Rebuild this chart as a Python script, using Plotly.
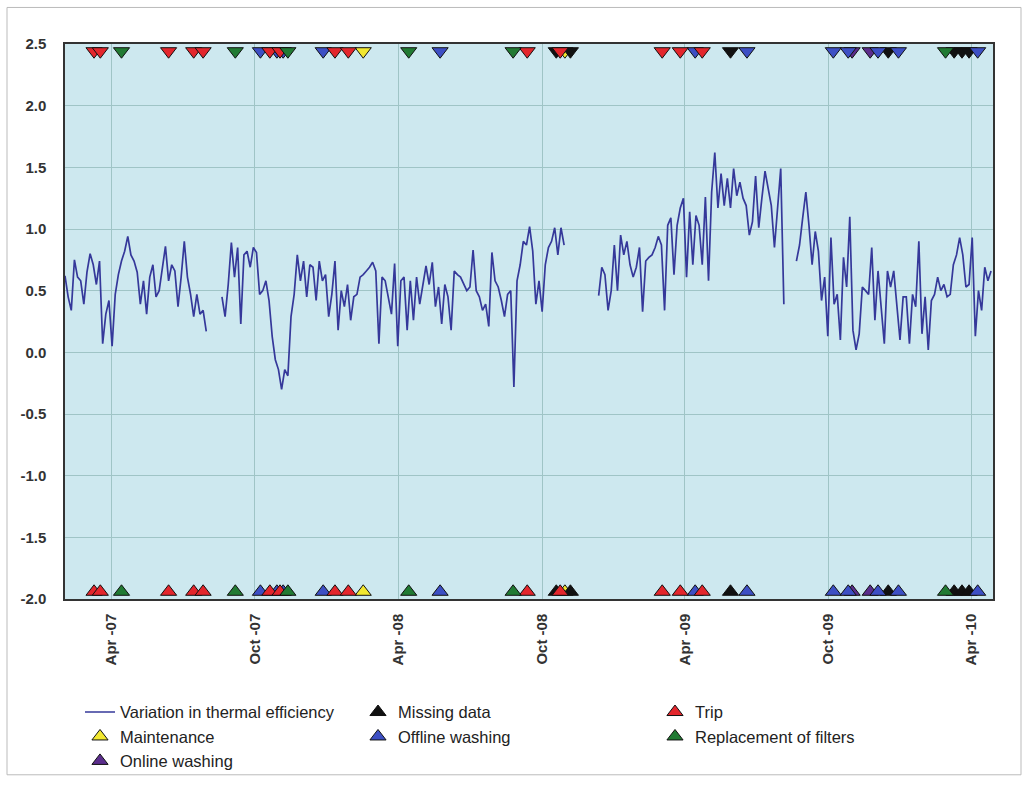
import pandas as pd
import plotly.graph_objects as go

# ---------------- data ----------------
SERIES_START = "2007-02-01"
SERIES_STEP_DAYS = 4
efficiency = [
    0.62, 0.45, 0.34, 0.75, 0.61, 0.58, 0.39, 0.65, 0.80, 0.71,
    0.55, 0.74, 0.07, 0.31, 0.42, 0.05, 0.47, 0.63, 0.74, 0.82,
    0.94, 0.79, 0.74, 0.65, 0.39, 0.58, 0.31, 0.61, 0.71, 0.45,
    0.50, 0.69, 0.86, 0.58, 0.71, 0.66, 0.37, 0.61, 0.90, 0.61,
    0.47, 0.29, 0.47, 0.31, 0.34, 0.17, None, None, None, None,
    0.45, 0.29, 0.55, 0.89, 0.61, 0.85, 0.23, 0.79, 0.82, 0.69,
    0.85, 0.81, 0.47, 0.50, 0.58, 0.42, 0.13, -0.06, -0.14, -0.30,
    -0.14, -0.19, 0.29, 0.47, 0.79, 0.58, 0.74, 0.45, 0.71, 0.69,
    0.42, 0.74, 0.58, 0.63, 0.29, 0.47, 0.74, 0.18, 0.50, 0.37,
    0.55, 0.26, 0.45, 0.47, 0.61, 0.63, 0.66, 0.69, 0.73, 0.66,
    0.07, 0.61, 0.58, 0.45, 0.31, 0.72, 0.05, 0.58, 0.61, 0.18,
    0.58, 0.26, 0.61, 0.39, 0.53, 0.70, 0.55, 0.73, 0.37, 0.53,
    0.23, 0.55, 0.45, 0.18, 0.66, 0.63, 0.61, 0.55, 0.50, 0.53,
    0.83, 0.50, 0.45, 0.34, 0.39, 0.21, 0.81, 0.58, 0.53, 0.42,
    0.29, 0.47, 0.50, -0.28, 0.58, 0.71, 0.90, 0.87, 1.02, 0.82,
    0.39, 0.58, 0.33, 0.71, 0.85, 0.90, 1.01, 0.79, 1.01, 0.87,
    None, None, None, None, None, None, None, None, None, None,
    0.46, 0.69, 0.63, 0.34, 0.50, 0.87, 0.50, 0.95, 0.79, 0.90,
    0.71, 0.61, 0.69, 0.85, 0.33, 0.74, 0.77, 0.79, 0.85, 0.94,
    0.87, 0.34, 1.03, 1.09, 0.63, 1.03, 1.17, 1.25, 0.61, 1.14,
    0.71, 1.11, 1.03, 0.71, 1.26, 0.58, 1.30, 1.62, 1.17, 1.45,
    1.19, 1.41, 1.17, 1.49, 1.27, 1.38, 1.25, 1.19, 0.95, 1.06,
    1.43, 1.01, 1.25, 1.47, 1.33, 1.19, 0.85, 1.17, 1.49, 0.39,
    None, None, None, 0.74, 0.87, 1.09, 1.30, 1.03, 0.71, 0.98,
    0.82, 0.42, 0.61, 0.13, 0.93, 0.39, 0.47, 0.10, 0.77, 0.53,
    1.10, 0.18, 0.02, 0.15, 0.53, 0.50, 0.47, 0.85, 0.26, 0.66,
    0.39, 0.07, 0.66, 0.53, 0.66, 0.39, 0.10, 0.45, 0.45, 0.07,
    0.47, 0.37, 0.90, 0.15, 0.45, 0.02, 0.42, 0.47, 0.61, 0.50,
    0.55, 0.45, 0.47, 0.71, 0.79, 0.93, 0.79, 0.53, 0.55, 0.93,
    0.13, 0.50, 0.34, 0.69, 0.58, 0.66,
]

maintenance = ["2008-02-16", "2008-10-30"]
online_washing = ["2009-10-31", "2009-11-23"]
missing_data = ["2008-10-19", "2008-11-06", "2009-05-29", "2009-12-16",
                "2010-03-10", "2010-03-20", "2010-03-29"]
offline_washing = ["2007-10-08", "2007-10-29", "2007-11-06", "2007-12-27",
                   "2008-05-24", "2009-04-14", "2009-06-19", "2009-10-07",
                   "2009-10-26", "2009-12-03", "2009-12-29", "2010-04-09"]
trip = ["2007-03-10", "2007-03-18", "2007-06-13", "2007-07-15", "2007-07-27",
        "2007-10-20", "2007-11-02", "2008-01-11", "2008-01-28", "2008-09-12",
        "2008-10-24", "2009-03-03", "2009-03-26", "2009-04-23"]
replacement_filters = ["2007-04-14", "2007-09-06", "2007-11-12", "2008-04-14",
                       "2008-08-25", "2010-02-27"]

tick_dates = ["2007-04-01", "2007-10-01", "2008-04-01", "2008-10-01",
              "2009-04-01", "2009-10-01", "2010-04-01"]
tick_labels = ["Apr -07", "Oct -07", "Apr -08", "Oct -08",
               "Apr -09", "Oct -09", "Apr -10"]
y_ticks = [-2.0, -1.5, -1.0, -0.5, 0.0, 0.5, 1.0, 1.5, 2.0, 2.5]
y_tick_labels = ["-2.0", "-1.5", "-1.0", "-0.5", "0.0", "0.5", "1.0", "1.5", "2.0", "2.5"]

X_RANGE = ["2007-02-01", "2010-04-28 12:00"]
Y_MIN, Y_MAX = -2.0, 2.5

# ---------------- figure ----------------
W, H = 1028, 791
ML, MR, MT, MB = 65, 35, 44, 185
PW, PH = W - ML - MR, H - MT - MB

dates = pd.date_range(SERIES_START, periods=len(efficiency), freq=f"{SERIES_STEP_DAYS}D")

FONT = "Liberation Sans"
fig = go.Figure()

fig.add_trace(go.Scatter(
    x=dates, y=efficiency, mode="lines", connectgaps=False,
    line=dict(color="#35389a", width=1.7),
    name="Variation in thermal efficiency", legend="legend",
))

span = Y_MAX - Y_MIN
y_top = Y_MAX - span * 0.013
y_bot = Y_MIN + span * 0.013

events = [
    ("Maintenance", maintenance, "#f2e830", "legend"),
    ("Online washing", online_washing, "#5b2d8c", "legend"),
    ("Missing data", missing_data, "#111111", "legend2"),
    ("Offline washing", offline_washing, "#3d4fc4", "legend2"),
    ("Trip", trip, "#e3262c", "legend3"),
    ("Replacement of filters", replacement_filters, "#217a33", "legend3"),
]

for name, ds, col, lg in events:
    fig.add_trace(go.Scatter(
        x=ds, y=[y_top] * len(ds), mode="markers", showlegend=False,
        marker=dict(symbol="triangle-down", size=14, color=col,
                    line=dict(color="#111111", width=1)),
        cliponaxis=False, legend=lg, name=name,
    ))
    fig.add_trace(go.Scatter(
        x=ds, y=[y_bot] * len(ds), mode="markers", showlegend=True,
        marker=dict(symbol="triangle-up", size=14, color=col,
                    line=dict(color="#111111", width=1)),
        cliponaxis=False, legend=lg, name=name,
    ))

def px_x(p):
    return (p - ML) / PW

def px_y(p):
    return (H - MB - p) / PH

legend_common = dict(
    font=dict(family=FONT, size=16.5, color="#222222"),
    bgcolor="rgba(0,0,0,0)", yanchor="top", xanchor="left",
    tracegroupgap=0, itemwidth=30,
)

fig.update_layout(
    width=W, height=H,
    margin=dict(l=ML, r=MR, t=MT, b=MB),
    paper_bgcolor="white",
    plot_bgcolor="#cde8ef",
    font=dict(family=FONT, size=13, color="#222222"),
    legend=dict(x=px_x(80), y=px_y(703), **legend_common),
    legend2=dict(x=px_x(358), y=px_y(703), **legend_common),
    legend3=dict(x=px_x(655), y=px_y(703), **legend_common),
    xaxis=dict(
        type="date", range=X_RANGE,
        tickvals=tick_dates, ticktext=tick_labels, tickangle=-90,
        tickfont=dict(family=FONT, size=15, color="#333333", weight="bold"),
        showgrid=True, gridcolor="#9fc4c6", gridwidth=1,
        showline=True, linecolor="#333333", linewidth=1.5, mirror=True,
        ticks="", zeroline=False, ticklabelstandoff=7,
    ),
    yaxis=dict(
        range=[Y_MIN, Y_MAX], tickvals=y_ticks, ticktext=y_tick_labels,
        tickfont=dict(family=FONT, size=15, color="#333333", weight="bold"),
        showgrid=True, gridcolor="#9fc4c6", gridwidth=1,
        showline=True, linecolor="#333333", linewidth=1.5, mirror=True,
        ticks="", zeroline=False, ticklabelstandoff=14,
    ),
    shapes=[dict(
        type="rect", xref="paper", yref="paper",
        x0=px_x(7), x1=px_x(1021), y0=px_y(784), y1=px_y(7),
        line=dict(color="#bbbbbb", width=1), fillcolor="rgba(0,0,0,0)",
        layer="below",
    )],
)

fig.write_html("out.html", post_script="document.body.style.margin='0px';",
               config={"displayModeBar": False})
